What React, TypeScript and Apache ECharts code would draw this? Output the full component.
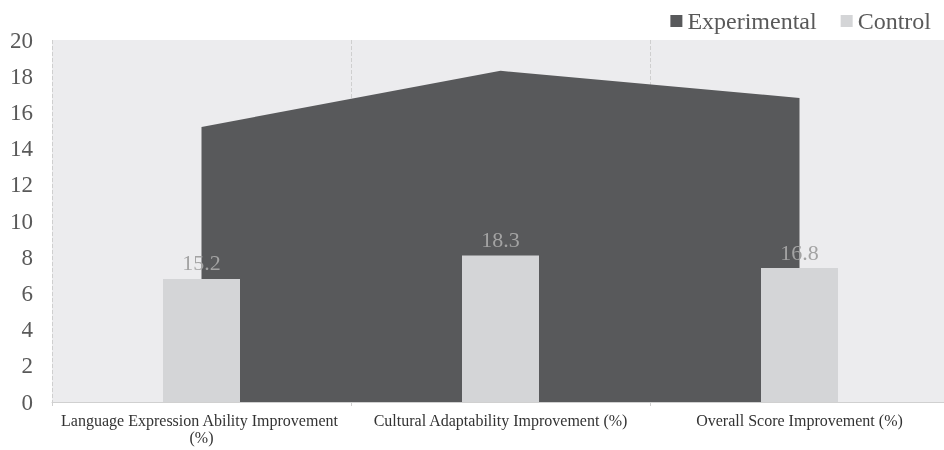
import React, { useEffect, useRef } from "react";
import * as echarts from "echarts";

const categories = [
  "Language Expression Ability Improvement (%)",
  "Cultural Adaptability Improvement (%)",
  "Overall Score Improvement (%)",
];
const experimental = [15.2, 18.3, 16.8];
const control = [6.8, 8.1, 7.4];
const yTicks = { min: 0, max: 20, interval: 2 };

export default function App() {
  const ref = useRef<HTMLDivElement>(null);
  useEffect(() => {
    if (!ref.current) return;
    const chart = echarts.init(ref.current, undefined, { renderer: "svg" });
    const serif = "'Liberation Serif', 'Times New Roman', serif";
    chart.setOption({
      animation: false,
      textStyle: { fontFamily: serif },
      legend: {
        top: 4,
        right: 14,
        itemWidth: 12,
        itemHeight: 12,
        itemGap: 24,
        icon: "rect",
        textStyle: { fontFamily: serif, fontSize: 24, color: "#595959" },
        data: ["Experimental", "Control"],
      },
      grid: {
        left: 52,
        top: 40,
        right: 1,
        bottom: 48,
        show: true,
        backgroundColor: "#ececee",
        borderWidth: 0,
        containLabel: false,
      },
      xAxis: {
        type: "category",
        data: categories,
        boundaryGap: true,
        axisLine: { show: true, lineStyle: { color: "#d0d0d0", width: 1 } },
        axisTick: { show: true, length: 4, lineStyle: { color: "#d0d0d0" } },
        splitLine: { show: true, lineStyle: { type: "dashed", color: "#cfcfcf", width: 1 } },
        axisLabel: {
          fontFamily: serif,
          fontSize: 16,
          color: "#333333",
          width: 290,
          overflow: "break",
          lineHeight: 17,
          margin: 10,
          interval: 0,
        },
      },
      yAxis: {
        type: "value",
        min: yTicks.min,
        max: yTicks.max,
        interval: yTicks.interval,
        axisLine: { show: false },
        axisTick: { show: false },
        splitLine: { show: false },
        axisLabel: { fontFamily: serif, fontSize: 23, color: "#595959", margin: 19 },
      },
      series: [
        {
          name: "Experimental",
          type: "line",
          z: 1,
          data: experimental,
          symbol: "none",
          showSymbol: false,
          color: "#58595b",
          lineStyle: { width: 0, color: "#58595b" },
          areaStyle: { color: "#58595b", opacity: 1 },
          itemStyle: { color: "#58595b" },
        },
        {
          name: "Control",
          type: "bar",
          z: 3,
          data: control,
          barWidth: 77,
          itemStyle: { color: "#d4d5d7" },
          label: {
            show: true,
            position: "top",
            distance: 5,
            fontFamily: serif,
            fontSize: 22,
            color: "#a3a3a3",
            formatter: (p: any) => String(experimental[p.dataIndex]),
          },
        },
      ],
    });
    return () => chart.dispose();
  }, []);
  return (
    <div
      style={{
        position: "fixed",
        left: 0,
        top: 0,
        width: 944,
        height: 450,
        overflow: "hidden",
      }}
    >
      <div ref={ref} style={{ width: 950, height: 450 }} />
    </div>
  );
}
